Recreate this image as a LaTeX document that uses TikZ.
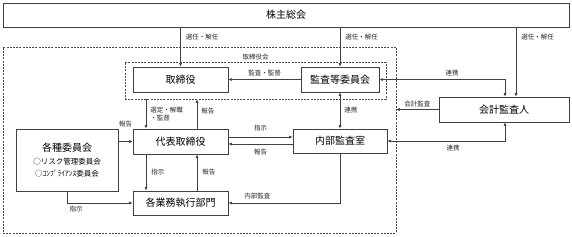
\documentclass[tikz,border=0pt]{standalone}
\usepackage{fontspec}
\setmainfont{Noto Sans CJK JP}
\usetikzlibrary{arrows.meta}

\tikzset{
  box/.style={draw=black!75, line width=0.7pt, minimum height=25pt, inner sep=1pt,
    font=\fontsize{10}{12}\selectfont},
  lbl/.style={font=\fontsize{6.5}{7.5}\selectfont, inner sep=1pt, text=black!85},
  line/.style={draw=black!75, line width=0.6pt},
  arr/.style={line, -{Latex[length=3.5pt,width=3pt]}},
  biarr/.style={line, {Latex[length=3.5pt,width=3pt]}-{Latex[length=3.5pt,width=3pt]}},
  frame/.style={draw=black!70, line width=0.6pt, dash pattern=on 2pt off 1.2pt},
}

\begin{document}
\begin{tikzpicture}[x=1pt, y=-1pt]
  \useasboundingbox (0,0) rectangle (572,236);

  % Dashed frames (company side and the board)
  \node[frame, minimum width=393pt, minimum height=186pt] (kaisha) at (199.5,140) {};
  \node[frame, minimum width=261pt, minimum height=37pt,
    label={[lbl]above:取締役会}] (torikai) at (255.5,80.5) {};

  % Boxes
  \node[box, minimum width=566pt, minimum height=24pt] (soukai) at (286,15) {株主総会};
  \node[box, minimum width=95pt] (tori) at (180.5,79.5) {取締役};
  \node[box, minimum width=78pt] (kansa) at (340,79.5) {監査等委員会};
  \node[box, minimum width=130pt] (kaikei) at (504,109.5) {会計監査人};
  \node[box, minimum width=95pt] (daihyo) at (180.5,141.5) {代表取締役};
  \node[box, minimum width=94pt, minimum height=24pt] (naibu) at (340,141) {内部監査室};
  \node[box, minimum width=95pt, minimum height=24pt] (gyomu) at (180.5,203) {各業務執行部門};
  \node[box, minimum width=102pt, minimum height=62pt, align=center] (iinkai) at (67,160)
    {各種委員会\\[1pt]{\fontsize{7.5}{9}\selectfont ○リスク管理委員会}\\{\fontsize{7.5}{9}\selectfont ○ｺﾝﾌﾟﾗｲｱﾝｽ委員会}};

  % Election / dismissal by the shareholders' meeting
  \foreach \n/\dx/\p in {tori/0/0.25, kansa/0/0.25, kaikei/12/0.14} {
    \draw[arr] ([xshift=\dx pt]\n.north |- soukai.south) -- ([xshift=\dx pt]\n.north)
      node[lbl, pos=\p, anchor=west, xshift=4pt] {選任・解任};
  }

  % Audit committee links
  \draw[arr] (kansa.west) -- (tori.east) node[lbl, midway, above=2pt] {監査・監督};
  \draw[biarr] (kansa.east) -| ([xshift=1pt]kaikei.north) node[lbl, pos=0.29, above=2pt] {連携};
  \draw[biarr] (kansa.south) -- (naibu.north) node[lbl, midway, right=3pt] {連携};
  \draw[biarr] (naibu.east) -| ([xshift=1pt]kaikei.south) node[lbl, pos=0.28, below=3pt] {連携};
  \draw[arr] (kaikei.west) -- (kaikei.west -| kaisha.east) node[lbl, midway, above=1pt] {会計監査};

  % Board and representative director
  \draw[arr] ([xshift=-34.5pt]daihyo.north |- torikai.south) -- ([xshift=-34.5pt]daihyo.north)
    node[lbl, midway, right=3pt, align=left] {選定・解職\\・監督};
  \draw[arr] ([xshift=16.5pt]daihyo.north) -- ([xshift=16.5pt]daihyo.north |- torikai.south)
    node[lbl, pos=0.6, right=3pt] {報告};

  % Representative director and business divisions
  \draw[arr] ([xshift=-34.5pt]daihyo.south) -- ([xshift=-34.5pt]gyomu.north)
    node[lbl, midway, right=4pt] {指示};
  \draw[arr] ([xshift=16.5pt]gyomu.north) -- ([xshift=16.5pt]daihyo.south)
    node[lbl, midway, right=4pt] {報告};

  % Committees
  \draw[arr] (daihyo.west -| iinkai.east) -- (daihyo.west) node[lbl, midway, above=13pt] {報告};
  \draw[arr] (iinkai.south) |- (gyomu.west) node[lbl, pos=0.57, below=2pt] {指示};

  % Internal audit office
  \draw[arr] ([yshift=4.5pt]daihyo.east) -- ([yshift=4.5pt]daihyo.east -| naibu.west)
    node[lbl, midway, above=5pt] {指示};
  \draw[arr] ([yshift=-3pt]naibu.west) -- ([yshift=-3pt]naibu.west -| daihyo.east)
    node[lbl, midway, below=4pt] {報告};
  \draw[arr] (naibu.south) |- (gyomu.east) node[lbl, pos=0.87, above=3pt] {内部監査};
\end{tikzpicture}
\end{document}
